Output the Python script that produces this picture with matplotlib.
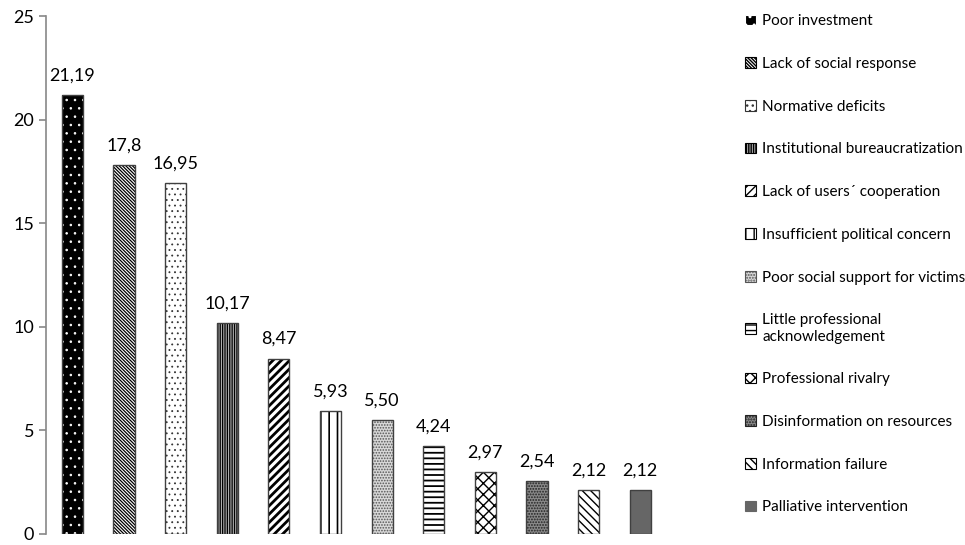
import matplotlib.pyplot as plt
from matplotlib.patches import Patch

plt.rcParams['font.family'] = ['Lato', 'DejaVu Sans']

# data
categories = ['Poor investment', 'Lack of social response', 'Normative deficits',
              'Institutional bureaucratization', 'Lack of users\u00b4 cooperation',
              'Insufficient political concern', 'Poor social support for victims',
              'Little professional\nacknowledgement', 'Professional rivalry',
              'Disinformation on resources', 'Information failure',
              'Palliative intervention']
values = [21.19, 17.8, 16.95, 10.17, 8.47, 5.93, 5.50, 4.24, 2.97, 2.54, 2.12, 2.12]
value_labels = ['21,19', '17,8', '16,95', '10,17', '8,47', '5,93', '5,50',
                '4,24', '2,97', '2,54', '2,12', '2,12']

# styles: (face, hatch, hatch colour, hatch linewidth)
styles = [('black', '..', 'white', 0.6),
          ('white', '\\' * 10, 'black', 0.9),
          ('white', '...', '#333333', 0.6),
          ('#b0b0b0', '|' * 7, 'black', 0.9),
          ('white', '////', 'black', 2.0),
          ('white', '||', 'black', 1.2),
          ('#d8d8d8', '......', '#555555', 0.8),
          ('white', '---', 'black', 1.3),
          ('white', 'xxx', 'black', 1.0),
          ('#8a8a8a', '......', '#222222', 0.9),
          ('white', '\\\\\\\\', 'black', 1.0),
          ('#666666', '', '#666666', 1.0)]

fig = plt.figure(figsize=(9.65, 5.45), dpi=100)
ax = fig.add_axes([0.0477, 0.0202, 0.643, 0.9504])

x = list(range(len(values)))
handles = []
for i, v in enumerate(values):
    face, hatch, hcol, hlw = styles[i]
    with plt.rc_context({'hatch.linewidth': hlw}):
        ax.bar(x[i], v, width=0.41, color=face, edgecolor=hcol, hatch=hatch, linewidth=0)
        handles.append(Patch(facecolor=face, edgecolor=hcol, hatch=hatch, linewidth=0.8))
    ax.bar(x[i], v, width=0.41, fill=False, edgecolor='#404040', linewidth=1.0)
    ax.text(x[i], v + 0.55, value_labels[i], ha='center', va='bottom', fontsize=13)

ax.set_xlim(-0.51, 11.51)
ax.set_ylim(0, 25)
ax.set_yticks([0, 5, 10, 15, 20, 25])
ax.tick_params(axis='y', labelsize=13, color='#888888', length=5, width=1.2)
ax.set_xticks([])
for s in ['top', 'right', 'bottom']:
    ax.spines[s].set_visible(False)
ax.spines['left'].set_color('#888888')
ax.spines['left'].set_linewidth(1.2)

fig.legend(handles, categories, loc='upper left', bbox_to_anchor=(0.766, 0.985),
           frameon=False, fontsize=11, handlelength=0.7, handleheight=0.7,
           handletextpad=0.4, labelspacing=1.88, borderaxespad=0)

fig.savefig('out.png', dpi=100)
